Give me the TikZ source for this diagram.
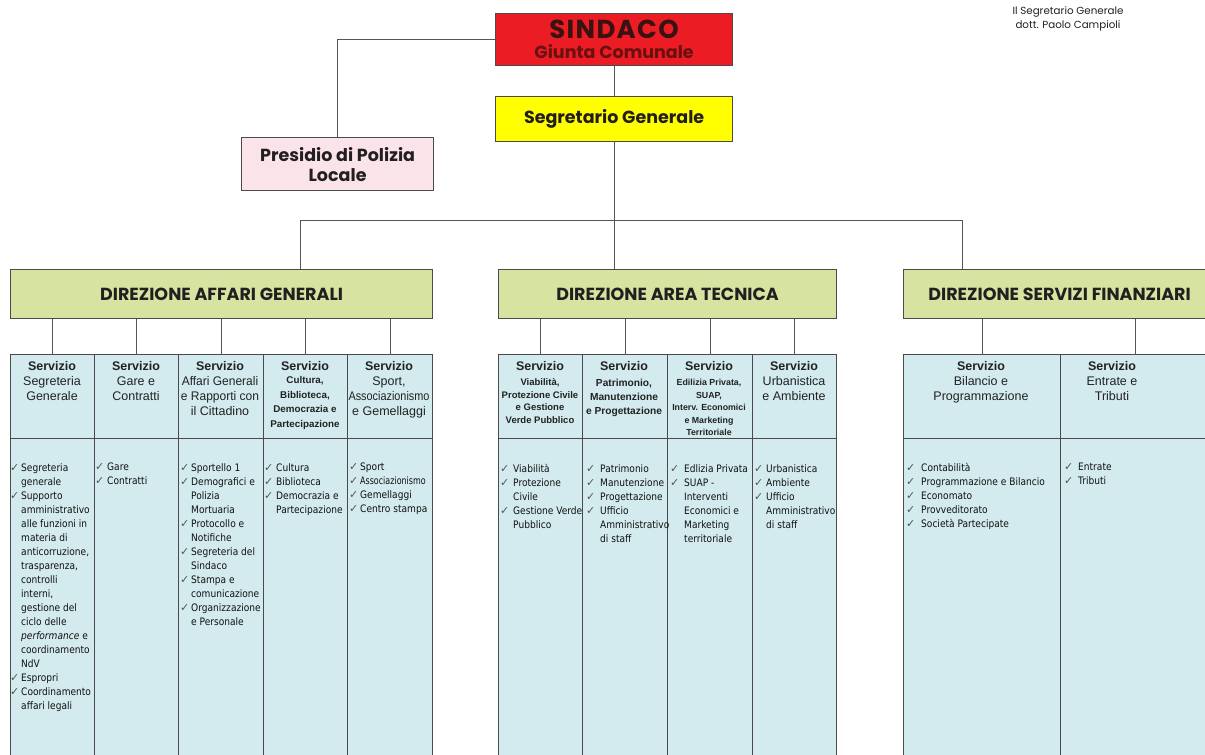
\documentclass[tikz,border=0pt]{standalone}
\usepackage{fontspec}
\usepackage{graphicx}
\setmainfont{Liberation Sans}
\newfontfamily\geo{Poppins}
\newfontfamily\geols[LetterSpace=5]{Poppins}
\newfontfamily\bodyf[FakeStretch=0.88]{DejaVu Sans}
\newfontfamily\ckf{DejaVu Sans}
\definecolor{bord}{HTML}{4A4A4A}
\definecolor{lnc}{HTML}{555555}
\definecolor{redb}{HTML}{EC1C24}
\definecolor{yelb}{HTML}{FFFF00}
\definecolor{pinkb}{HTML}{FBE3EA}
\definecolor{greenb}{HTML}{D7E4A1}
\definecolor{cyanb}{HTML}{D3EBEE}
\definecolor{dtext}{HTML}{231F20}
\definecolor{htext}{HTML}{222222}
\definecolor{btext}{HTML}{111111}
\definecolor{ckgray}{HTML}{555555}
\definecolor{sind1}{HTML}{3A1212}
\definecolor{sind2}{HTML}{6B1010}
\newlength\ckw
\newcommand\ckm{{\ckf\fontsize{11}{11}\selectfont\color{ckgray}✓}}
\newcommand\I{\makebox[\ckw][l]{\ckm}}
\newcommand\C{\hspace*{\ckw}}
\newcommand\sv{{\bfseries Servizio}}
\newcommand\svb{{\fontsize{12.5}{15}\selectfont\bfseries Servizio}}
\begin{document}
\begin{tikzpicture}[x=1pt,y=-1pt,
  bx/.style={draw=bord, line width=1.2pt, inner sep=0pt, anchor=north west},
  ln/.style={draw=lnc, line width=1pt},
  big/.style={text=dtext, align=center, font=\geo\bfseries\fontsize{17.5}{20}\selectfont},
  hd/.style={anchor=north, inner sep=0pt, align=center, text=htext, font=\fontsize{12.5}{15}\selectfont},
  hds/.style n args={2}{anchor=north, inner sep=0pt, align=center, text=htext, font=\bfseries\fontsize{#1}{#2}\selectfont},
  body/.style={anchor=north west, inner sep=0pt, align=left, text=btext, font={\bodyf\fontsize{10.3}{14}\selectfont\setlength\ckw{#1}}}]
\clip (0,0) rectangle (1205,755);
\fill[white] (0,0) rectangle (1205,755);

% top boxes
\node[bx, fill=redb, minimum width=237pt, minimum height=52pt, align=center,
  font=\geo\bfseries\fontsize{17.5}{20}\selectfont] (sind) at (495,13)
  {{\color{sind1}\geols\bfseries\fontsize{26}{26}\selectfont SINDACO}\\{\color{sind2}Giunta Comunale}};
\node[bx, fill=yelb, minimum width=237pt, minimum height=45pt, big] (seg) at (495,96) {Segretario Generale};
\node[bx, fill=pinkb, minimum width=192pt, minimum height=53pt, big] (pres) at (241,137) {Presidio di Polizia\\Locale};

\node[anchor=north, inner sep=0pt, align=center, text=htext, font=\geo\fontsize{10.3}{14}\selectfont] (firma) at (1068,6) {Il Segretario Generale\\dott. Paolo Campioli};

% direzioni
\node[bx, fill=greenb, minimum width=422pt, minimum height=49pt, big] (AG) at (10,269) {DIREZIONE AFFARI GENERALI};
\node[bx, fill=greenb, minimum width=338pt, minimum height=49pt, big] (AT) at (498,269) {DIREZIONE AREA TECNICA};
\node[bx, fill=greenb, minimum width=312pt, minimum height=49pt, big] (SF) at (903,269) {DIREZIONE SERVIZI FINANZIARI};

% service columns
\foreach \a/\b [count=\i] in {10/94,94/178,178/263,263/347,347/432}{
  \node[bx, fill=cyanb, minimum width=\b-\a, minimum height=84pt] (h1\i) at (\a,354) {};
  \node[bx, fill=cyanb, minimum width=\b-\a, minimum height=330pt] (b1\i) at (\a,438) {};
}
\foreach \a/\b [count=\i] in {498/582,582/667,667/752,752/836}{
  \node[bx, fill=cyanb, minimum width=\b-\a, minimum height=84pt] (h2\i) at (\a,354) {};
  \node[bx, fill=cyanb, minimum width=\b-\a, minimum height=330pt] (b2\i) at (\a,438) {};
}
\foreach \a/\b [count=\i] in {903/1060,1060/1210}{
  \node[bx, fill=cyanb, minimum width=\b-\a, minimum height=84pt] (h3\i) at (\a,354) {};
  \node[bx, fill=cyanb, minimum width=\b-\a, minimum height=330pt] (b3\i) at (\a,438) {};
}

% connectors
\coordinate (jl) at (300,220);
\coordinate (jm) at (seg.south |- jl);
\coordinate (jr) at (962,220);
\draw[ln] (sind.west) -| (pres.north);
\draw[ln] (sind.south) -- (seg.north);
\draw[ln] (seg.south) -- (seg.south |- AT.north);
\draw[ln] (jl |- AG.north) -- (jl) -- (jr) -- (jr |- SF.north);
\foreach \i in {1,...,5}{\draw[ln] (AG.south -| h1\i.north) -- (h1\i.north);}
\foreach \i in {1,...,4}{\draw[ln] (AT.south -| h2\i.north) -- (h2\i.north);}
\foreach \i in {1,2}{\draw[ln] (SF.south -| h3\i.north) -- (h3\i.north);}

% header texts
\node[hd] (t11) at (52,361.5) {\sv\\Segreteria\\Generale};
\node[hd] (t12) at (136,361.5) {\sv\\Gare e\\Contratti};
\node[hd] (t13) at (220,361.5) {\sv\\\scalebox{0.96}[1]{Affari Generali}\\\scalebox{0.96}[1]{e Rapporti con}\\il Cittadino};
\node[hds={9.8}{14.5}] (t14) at (305,361.5) {\svb\\[-1.5pt]Cultura,\\Biblioteca,\\Democrazia e\\Partecipazione};
\node[hd] (t15) at (389,361.5) {\sv\\Sport,\\\scalebox{0.87}[1]{Associazionismo}\\e Gemellaggi};
\node[hds={9.5}{12.5}] (t21) at (540,361.5) {\svb\\[2.5pt]Viabilità,\\Protezione Civile\\e Gestione\\Verde Pubblico};
\node[hds={10.2}{14.3}] (t22) at (624,361.5) {\svb\\[1pt]Patrimonio,\\Manutenzione\\e Progettazione};
\node[hds={8.8}{12.5}] (t23) at (709,361.5) {\svb\\[2.5pt]Edilizia Privata,\\SUAP,\\Interv. Economici\\e Marketing\\Territoriale};
\node[hd] (t24) at (794,361.5) {\sv\\Urbanistica\\e Ambiente};
\node[hd] (t31) at (981,361.5) {\sv\\Bilancio e\\Programmazione};
\node[hd] (t32) at (1112,361.5) {\sv\\Entrate e\\Tributi};

% body lists
\node[body=11pt] (l11) at (10,463) {\I Segreteria\\\C generale\\\I Supporto\\\C amministrativo\\\C alle funzioni in\\\C materia di\\\C anticorruzione,\\\C trasparenza,\\\C controlli\\\C interni,\\\C gestione del\\\C ciclo delle\\\C \emph{performance} e\\\C coordinamento\\\C NdV\\\I Espropri\\\I Coordinamento\\\C affari legali};
\node[body=12pt] (l12) at (95,463) {\I Gare\\\I Contratti};
\node[body=11pt] (l13) at (180,463) {\I Sportello 1\\\I Demografici e\\\C Polizia\\\C Mortuaria\\\I Protocollo e\\\C Notifiche\\\I Segreteria del\\\C Sindaco\\\I Stampa e\\\C comunicazione\\\I Organizzazione\\\C e Personale};
\node[body=12pt] (l14) at (264,463) {\I Cultura\\\I Biblioteca\\\I Democrazia e\\\C Partecipazione};
\node[body=11pt] (l15) at (349,463) {\I Sport\\\I \scalebox{0.88}[1]{Associazionismo}\\\I Gemellaggi\\\I Centro stampa};
\node[body=13pt] (l21) at (500,464) {\I Viabilità\\\I Protezione\\\C Civile\\\I Gestione Verde\\\C Pubblico};
\node[body=14pt] (l22) at (586,464) {\I Patrimonio\\\I Manutenzione\\\I Progettazione\\\I Ufficio\\\C Amministrativo\\\C di staff};
\node[body=14pt] (l23) at (670,464) {\I Edlizia Privata\\\I SUAP -\\\C Interventi\\\C Economici e\\\C Marketing\\\C territoriale};
\node[body=12pt] (l24) at (754,464) {\I Urbanistica\\\I Ambiente\\\I Ufficio\\\C Amministrativo\\\C di staff};
\node[body=15pt] (l31) at (906,463) {\I Contabilità\\\I Programmazione e Bilancio\\\I Economato\\\I Provveditorato\\\I Società Partecipate};
\node[body=14pt] (l32) at (1064,463) {\I Entrate\\\I Tributi};
\end{tikzpicture}
\end{document}
